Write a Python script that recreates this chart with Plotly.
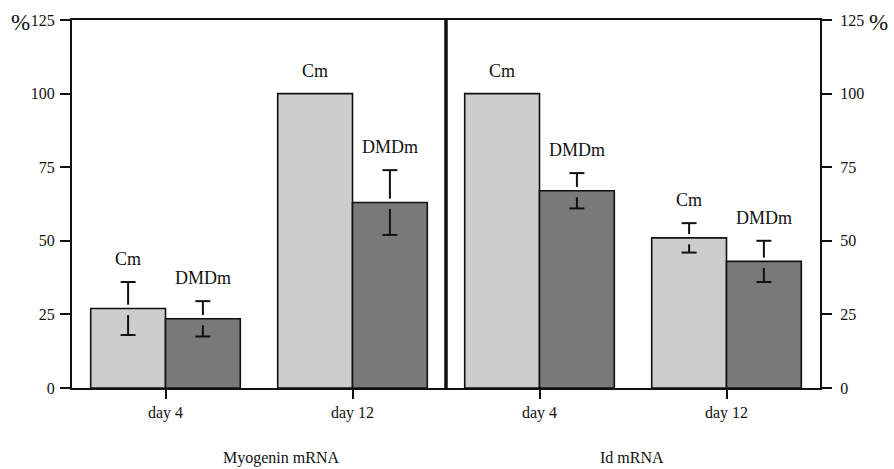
import plotly.graph_objects as go

# Relative mRNA levels (%), control myotubes (Cm) vs DMD myotubes (DMDm)
panels = ["Myogenin mRNA", "Id mRNA"]
panel_centers = [0.279, 0.749]
tick_labels = ["day 4", "day 12", "day 4", "day 12"]
cm_values = [27, 100, 100, 51]
cm_sd = [9, 0, 0, 5]
dmd_values = [23.5, 63, 67, 43]
dmd_sd = [6, 11, 6, 7]
y_ticks = [0, 25, 50, 75, 100, 125]

FONT = "Liberation Serif"
INK = "#111111"
LIGHT = "#cdcdcd"
DARK = "#797979"
BAR_W = 0.4
positions = list(range(len(tick_labels)))


def error_pieces(centers, values, sds, gap_up=1.3, gap_down=2.2, cap=0.04):
    """Split T-shaped error marks: one above the bar top, one inside the bar."""
    xs, ys = [], []
    for xc, v, s in zip(centers, values, sds):
        if s <= 0:
            continue
        # upper stem + cap
        xs += [xc, xc, None, xc - cap, xc + cap, None]
        ys += [v + gap_up, v + s, None, v + s, v + s, None]
        # lower stem + cap
        xs += [xc, xc, None, xc - cap, xc + cap, None]
        ys += [v - gap_down, v - s, None, v - s, v - s, None]
    return xs, ys


fig = go.Figure()
fig.add_trace(go.Bar(
    x=positions, y=cm_values, width=BAR_W, offset=-BAR_W,
    marker=dict(color=LIGHT, line=dict(color=INK, width=1.6)),
    name="Cm", showlegend=False,
))
fig.add_trace(go.Bar(
    x=positions, y=dmd_values, width=BAR_W, offset=0,
    marker=dict(color=DARK, line=dict(color=INK, width=1.6)),
    name="DMDm", showlegend=False,
))

cm_centers = [p - BAR_W / 2 for p in positions]
dmd_centers = [p + BAR_W / 2 for p in positions]
for centers, vals, sds in ((cm_centers, cm_values, cm_sd), (dmd_centers, dmd_values, dmd_sd)):
    ex, ey = error_pieces(centers, vals, sds)
    fig.add_trace(go.Scatter(x=ex, y=ey, mode="lines",
                             line=dict(color=INK, width=2),
                             showlegend=False, hoverinfo="skip"))

# invisible trace to activate the right-hand axis
fig.add_trace(go.Scatter(x=[positions[0]], y=[0], yaxis="y2", mode="markers",
                         marker=dict(opacity=0), showlegend=False, hoverinfo="skip"))

annotations = []
for centers, vals, sds, label in ((cm_centers, cm_values, cm_sd, "Cm"),
                                  (dmd_centers, dmd_values, dmd_sd, "DMDm")):
    for xc, v, s in zip(centers, vals, sds):
        annotations.append(dict(x=xc, y=v + s, xref="x", yref="y", text=label,
                                showarrow=False, yanchor="bottom", yshift=11,
                                font=dict(family=FONT, size=18, color=INK)))

# panel titles under each half
for title, cx in zip(panels, panel_centers):
    annotations.append(dict(x=cx, y=-0.19, xref="paper", yref="paper", text=title,
                            showarrow=False, xanchor="center", yanchor="middle",
                            font=dict(family=FONT, size=16, color=INK)))

# percent signs beside the top tick labels
annotations.append(dict(x=-0.054, y=125, xref="paper", yref="y", text="%", showarrow=False,
                        xanchor="right", yanchor="middle", yshift=-2,
                        font=dict(family=FONT, size=23, color=INK)))
annotations.append(dict(x=1.063, y=125, xref="paper", yref="y", text="%", showarrow=False,
                        xanchor="left", yanchor="middle", yshift=-2,
                        font=dict(family=FONT, size=23, color=INK)))

axis_common = dict(range=[0, 125], tickvals=y_ticks, ticks="outside", ticklen=10,
                   tickwidth=2, tickcolor=INK, showline=True, linewidth=2,
                   linecolor=INK, showgrid=False, zeroline=False,
                   tickfont=dict(family=FONT, size=16, color=INK))

fig.update_layout(
    width=894, height=469,
    margin=dict(l=72, r=74, t=17, b=81),
    paper_bgcolor="white", plot_bgcolor="white",
    barmode="overlay",
    xaxis=dict(range=[-0.5, len(tick_labels) - 0.5], tickvals=positions,
               ticktext=tick_labels, ticks="outside", ticklen=9, tickwidth=2,
               tickcolor=INK, showline=True, linewidth=2, linecolor=INK,
               mirror=True, showgrid=False, zeroline=False,
               tickfont=dict(family=FONT, size=16, color=INK)),
    yaxis=dict(side="left", ticklabelstandoff=2, **axis_common),
    yaxis2=dict(side="right", overlaying="y", ticklabelstandoff=5, **axis_common),
    shapes=[dict(type="line", xref="x", yref="paper",
                 x0=len(tick_labels) / 2 - 0.5, x1=len(tick_labels) / 2 - 0.5,
                 y0=0, y1=1, line=dict(color=INK, width=3.5))],
    annotations=annotations,
)

fig.write_html("out.html")
